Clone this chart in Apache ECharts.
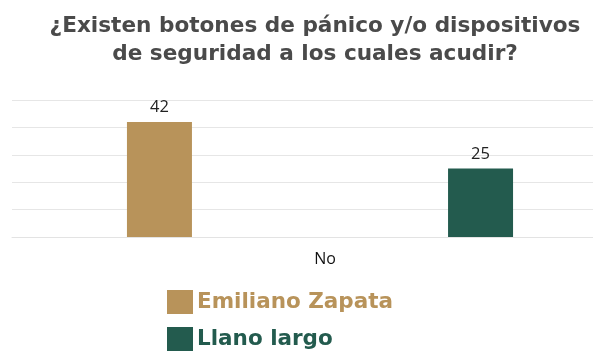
<!DOCTYPE html>
<html>
<head>
<meta charset="utf-8">
<script src="https://cdn.jsdelivr.net/npm/echarts@6/dist/echarts.min.js"></script>
<style>html,body{margin:0;padding:0;background:#fff;}#c{width:593px;height:352px;}</style>
</head>
<body>
<div id="c"></div>
<script>
const titleText = '¿Existen botones de pánico y/o dispositivos\nde seguridad a los cuales acudir?';
const categories = ['No'];
const seriesNames = ['Emiliano Zapata', 'Llano largo'];
const emilianoValues = [42];
const llanoValues = [25];
const seriesColors = ['#B8935A', '#235B4E'];

const legendText = {fontFamily: 'DejaVu Sans', fontWeight: 'bold', fontSize: 21.5, padding: [0,0,0,-1]};
const chart = echarts.init(document.getElementById('c'), null, {renderer: 'canvas'});
chart.setOption({
  animation: false,
  backgroundColor: '#fff',
  title: {
    text: titleText,
    left: 310, top: 7, textAlign: 'center',
    textStyle: {fontFamily: 'DejaVu Sans', fontWeight: 'bold', fontSize: 21.6, color: '#4a4a4a', lineHeight: 28}
  },
  legend: [
    {left: 167, top: 290, padding: 0, itemWidth: 26, itemHeight: 24, icon: 'rect',
     textStyle: Object.assign({}, legendText, {color: seriesColors[0]}), data: [seriesNames[0]]},
    {left: 167, top: 327, padding: 0, itemWidth: 26, itemHeight: 24, icon: 'rect',
     textStyle: Object.assign({}, legendText, {color: seriesColors[1]}), data: [seriesNames[1]]}
  ],
  grid: {left: 12, width: 616, top: 100, bottom: 115, outerBoundsMode: 'none', containLabel: false},
  xAxis: {
    type: 'category', data: categories,
    axisLine: {show: true, lineStyle: {color: '#e3e3e3'}},
    axisTick: {show: false},
    axisLabel: {fontFamily: 'Open Sans', fontSize: 16, color: '#111', margin: 14, padding: [0,0,0,10]}
  },
  yAxis: {
    type: 'value', min: 0, max: 50, interval: 10,
    axisLabel: {show: false}, axisLine: {show: false}, axisTick: {show: false},
    splitLine: {lineStyle: {color: '#e6e6e6', width: 1}}
  },
  series: [
    {name: seriesNames[0], type: 'bar', data: emilianoValues, barWidth: 65, barGap: '394%',
     itemStyle: {color: seriesColors[0]},
     label: {show: true, position: 'top', distance: 6, fontFamily: 'Open Sans', fontSize: 16.5, color: '#222'}},
    {name: seriesNames[1], type: 'bar', data: llanoValues, barWidth: 65,
     itemStyle: {color: seriesColors[1]},
     label: {show: true, position: 'top', distance: 6, fontFamily: 'Open Sans', fontSize: 16.5, color: '#222'}}
  ]
});
</script>
</body>
</html>
